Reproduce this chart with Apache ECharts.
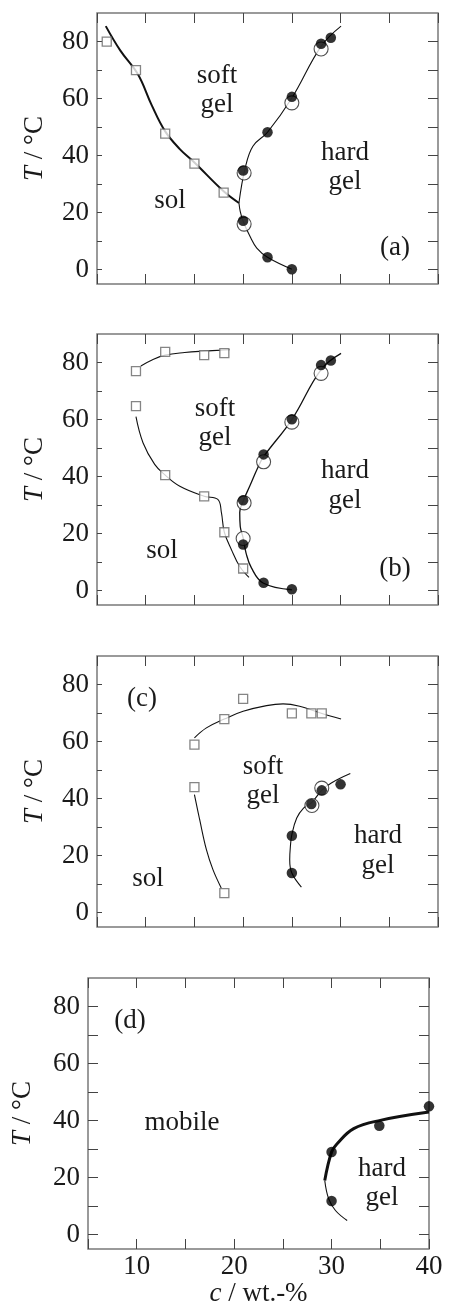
<!DOCTYPE html>
<html>
<head>
<meta charset="utf-8">
<script src="https://cdn.jsdelivr.net/npm/echarts@6/dist/echarts.min.js"></script>
<style>
  html, body { margin: 0; padding: 0; background: #fff; }
  #chart { width: 449px; height: 1312px; }
</style>
</head>
<body>
<div id="chart"></div>
<script>
// axis ticks
const yTicks = [0, 10, 20, 30, 40, 50, 60, 70, 80];
const yLabels = [0, 20, 40, 60, 80];
const xLabels = [10, 20, 30, 40];

// (a)
const aSquares = [[6, 80], [9, 70], [12, 47.7], [15, 37.2], [18, 27]];
const aFilled = [[20, 34.8], [20, 17.2], [22.5, 48.2], [22.5, 4.4], [25, 60.6], [25, 0.2], [28, 79.2], [29, 81.3]];
const aOpen = [[20.1, 33.9], [20.1, 16], [25, 58.5], [28, 77.4]];
const aSolLine = [[5.9, 85.4], [7.4, 76.8], [9.2, 68.5], [10.6, 57.8], [12, 48.5], [13.5, 42.3], [15, 37.6], [18, 27.5], [19.57, 23.4]];
const aGelUpper = [[30.05, 85.4], [28, 78.3], [25, 60.2], [22.5, 48.2], [21, 43.3], [20.2, 35.5], [19.57, 23.4]];
const aGelLower = [[19.57, 23.4], [19.7, 20.5], [20, 17], [20.7, 11.7], [21.4, 7.6], [22.5, 4.4], [25, 0.2]];

// (b)
const bSquares = [[9, 77], [12, 83.7], [16, 82.6], [18.07, 83.3], [9, 64.7], [12, 40.5], [16, 33.1], [18.07, 20.5], [20, 7.8]];
const bFilled = [[20, 31.7], [20, 16.2], [22.1, 47.8], [22.1, 2.8], [25, 60.1], [25, 0.5], [28, 79.1], [29, 80.7]];
const bOpen = [[20.1, 30.8], [20, 18.3], [22.1, 45.2], [25, 59.1], [28, 76.2]];
const bSolUpper = [[9.5, 78.8], [10.7, 81], [12, 82.6], [14, 83.5], [16, 84], [18.6, 84.5]];
const bSolLower = [[9, 61], [9.72, 51.9], [10.92, 44.3], [12, 40.5], [13.5, 36.6], [16, 33.1], [17.4, 32], [17.77, 27.4], [18.07, 20.5], [18.8, 14.4], [19.65, 8.5], [20.6, 4.7]];
const bGelLine = [[30.05, 83.2], [28, 77.5], [25, 60], [22.1, 47], [21.5, 43.1], [20.67, 36.6], [20, 31.4], [19.65, 27.4], [19.7, 22.6], [20, 18.5], [20.3, 13.2], [20.85, 8], [22.05, 2.7], [25, 0.35]];

// (c)
const cSquares = [[15, 58.9], [18.07, 67.9], [20, 75], [25, 69.9], [27, 69.9], [28.07, 69.9], [15, 44], [18.07, 6.9]];
const cFilled = [[25, 27], [25, 13.9], [27, 38.1], [28.07, 42.9], [30, 45]];
const cOpen = [[27.06, 37.6], [28.07, 43.7]];
const cSolUpper = [[15, 61.3], [16.23, 64.8], [18.07, 67.9], [20, 70.6], [22.4, 72.6], [24.1, 73.2], [25.8, 72.4], [27.86, 70.1], [30.05, 67.9]];
const cSolLower = [[15, 41.4], [15.54, 32.6], [16.23, 22.1], [16.9, 15.1], [17.75, 8.7]];
const cGelLine = [[25.98, 9], [25, 13.9], [24.78, 18.6], [24.85, 23.3], [25, 27.4], [25.5, 33.2], [26.2, 36.7], [27, 38.5], [28.06, 42.9], [29.05, 45.5], [31, 48.8]];

// (d)
const dFilled = [[30, 29], [30, 11.8], [34.9, 38.2], [40, 45]];
const dThick = [[29.3, 19], [30, 29], [30.57, 31.9], [32.27, 37.2], [35, 40.1], [40, 43]];
const dThin = [[29.3, 19], [29.7, 12.6], [30.4, 8.5], [31.6, 5]];

const FONT = 'Liberation Serif';
const INK = '#1a1a1a';
const FRAME = '#7a7a7a';

const chart = echarts.init(document.getElementById('chart'));

const grids = [
  {left: 97, top: 13, width: 341, height: 271},
  {left: 97, top: 334, width: 341, height: 271},
  {left: 97, top: 656, width: 341, height: 271},
  {left: 88, top: 978, width: 341, height: 271}
].map(g => Object.assign(g, {show: true, borderColor: FRAME, borderWidth: 1.5, backgroundColor: '#fff'}));

const xAxes = [];
const yAxes = [];
for (let i = 0; i < 4; i++) {
  const last = i === 3;
  [{position: 'bottom'}, {position: 'top'}].forEach(p => {
    xAxes.push({
      gridIndex: i, type: 'value', position: p.position,
      min: 5, max: 40, interval: 5,
      axisLine: {show: false, onZero: false}, splitLine: {show: false},
      axisTick: {inside: true, length: 10, lineStyle: {color: '#444', width: 1}},
      axisLabel: {
        show: last && p.position === 'bottom',
        customValues: xLabels,
        fontFamily: FONT, fontSize: 27, color: INK, margin: 4
      },
      name: last && p.position === 'bottom' ? '{i|c} / wt.-%' : '',
      nameLocation: 'middle', nameGap: 22,
      nameTextStyle: {
        fontFamily: FONT, fontSize: 27, color: INK, verticalAlign: 'top',
        rich: {i: {fontFamily: FONT, fontSize: 27, fontStyle: 'italic', color: INK}}
      }
    });
  });
  [{position: 'left'}, {position: 'right'}].forEach(p => {
    yAxes.push({
      gridIndex: i, type: 'value', position: p.position,
      min: -5, max: 90,
      axisLine: {show: false, onZero: false}, splitLine: {show: false},
      axisTick: {
        inside: true, customValues: yTicks,
        length: (p.position === 'left' && !last) ? 5 : 10,
        lineStyle: {color: '#444', width: 1}
      },
      axisLabel: {
        show: p.position === 'left',
        customValues: yLabels,
        fontFamily: FONT, fontSize: 27, color: INK, margin: 8
      },
      name: p.position === 'left' ? '{i|T} / °C' : '',
      nameLocation: 'middle', nameRotate: 90,
      nameGap: last ? 52 : 49,
      nameTextStyle: {
        fontFamily: FONT, fontSize: 27, color: INK,
        rich: {i: {fontFamily: FONT, fontSize: 27, fontStyle: 'italic', color: INK}}
      }
    });
  });
}

function curve(panel, data, width) {
  return {
    type: 'line', xAxisIndex: panel * 2, yAxisIndex: panel * 2, data: data,
    smooth: 0.4, showSymbol: false, silent: true, z: 2,
    lineStyle: {color: '#111', width: width}
  };
}
function squares(panel, data) {
  return {
    type: 'scatter', xAxisIndex: panel * 2, yAxisIndex: panel * 2, data: data,
    symbol: 'rect', symbolSize: 9, z: 5,
    itemStyle: {color: '#fff', borderColor: '#666', borderWidth: 1.3}
  };
}
function filled(panel, data) {
  return {
    type: 'scatter', xAxisIndex: panel * 2, yAxisIndex: panel * 2, data: data,
    symbol: 'circle', symbolSize: 10.5, z: 4,
    itemStyle: {color: '#000'}
  };
}
function open(panel, data) {
  return {
    type: 'scatter', xAxisIndex: panel * 2, yAxisIndex: panel * 2, data: data,
    symbol: 'circle', symbolSize: 14, z: 3,
    itemStyle: {color: '#fff', borderColor: '#222', borderWidth: 1.1}
  };
}

const series = [
  curve(0, aSolLine, 2), curve(0, aGelUpper, 1.1), curve(0, aGelLower, 1.1),
  open(0, aOpen), filled(0, aFilled), squares(0, aSquares),
  curve(1, bSolUpper, 1.1), curve(1, bSolLower, 1.1), curve(1, bGelLine, 1.3),
  open(1, bOpen), filled(1, bFilled), squares(1, bSquares),
  curve(2, cSolUpper, 1.1), curve(2, cSolLower, 1.1), curve(2, cGelLine, 1.1),
  open(2, cOpen), filled(2, cFilled), squares(2, cSquares),
  curve(3, dThick, 3), curve(3, dThin, 1.1), filled(3, dFilled)
];

function label(text, x, y) {
  return {
    type: 'text', x: x, y: y, z: 10,
    style: {text: text, fill: INK, font: '27px "' + FONT + '"', align: 'center', verticalAlign: 'middle'}
  };
}

const texts = [
  label('soft', 217, 76), label('gel', 217, 105), label('sol', 170, 201),
  label('hard', 345, 153), label('gel', 345, 182), label('(a)', 395, 248),
  label('soft', 215, 409), label('gel', 215, 438), label('sol', 162, 551),
  label('hard', 345, 471), label('gel', 345, 501), label('(b)', 395, 569),
  label('(c)', 142, 699), label('soft', 263, 767), label('gel', 263, 796),
  label('hard', 378, 836), label('gel', 378, 866), label('sol', 148, 879),
  label('(d)', 130, 1021), label('mobile', 182, 1123),
  label('hard', 382, 1169), label('gel', 382, 1198)
];

chart.setOption({
  animation: false,
  backgroundColor: '#fff',
  grid: grids,
  xAxis: xAxes,
  yAxis: yAxes,
  series: series,
  graphic: texts
});
</script>
</body>
</html>
